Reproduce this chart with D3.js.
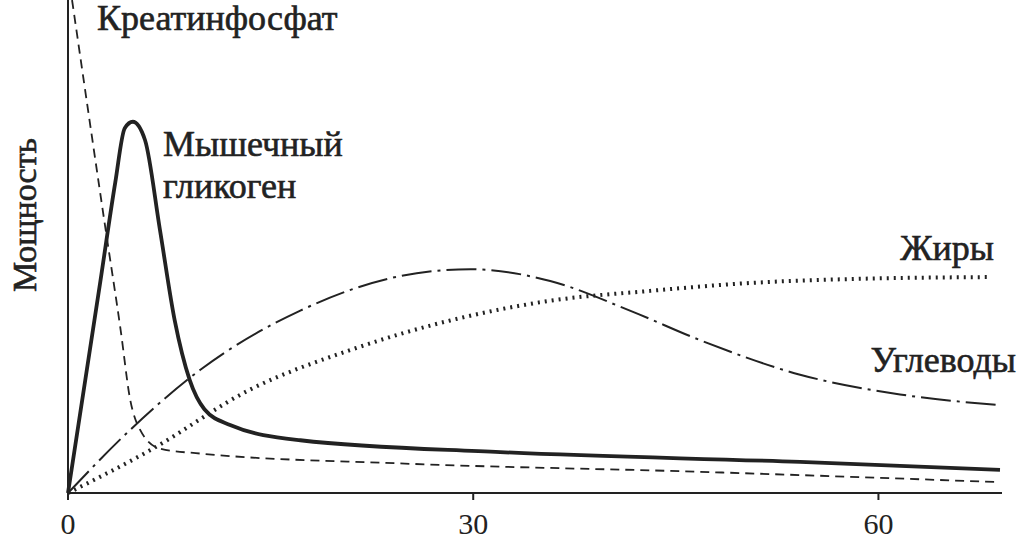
<!DOCTYPE html>
<html><head><meta charset="utf-8">
<script src="https://cdn.jsdelivr.net/npm/d3@7"></script>
<style>body{margin:0;background:#fff}text{font-family:"Liberation Serif","DejaVu Serif",serif;fill:#222}</style>
</head><body><svg id="c" width="1018" height="540"></svg>
<script>
// time (min) and power (relative)
const creatineT = [0.3, 2.7, 3.9, 4.6, 5.3, 6.8, 9.8, 24.6, 46.8, 69];
const creatineV = [100, 55, 33, 19, 13, 9, 8, 6, 4.3, 2.2];
const glycogenT = [0, 2.4, 3.5, 4.2, 4.8, 5.7, 6.8, 7.9, 9.0, 10.1, 12, 17.2, 32, 54.2, 69];
const glycogenV = [0, 43, 63, 74, 75.3, 71.6, 53.5, 35, 23, 17, 13.8, 10.7, 8.3, 6.3, 4.7];
const carbsT = [0, 4.6, 9.8, 17.2, 24.6, 29.8, 35.7, 41.6, 46.8, 54.2, 61.6, 69];
const carbsV = [0, 12.8, 25, 37, 44, 45.4, 43, 37, 31, 24, 20, 17.8];
const fatsT = [0, 6.1, 13.5, 20.9, 28.3, 35.7, 43.1, 50.5, 57.9, 68.3];
const fatsV = [0, 8.7, 21, 29, 35, 39, 41, 42.6, 43.4, 43.8];
const xTicks = [0, 30, 60];

const svg = d3.select("#c");
const x = d3.scaleLinear().domain([0, 69]).range([68, 1000]);
const y = d3.scaleLinear().domain([0, 100]).range([493, 0]);

svg.append("line").attr("x1", 68).attr("x2", 68).attr("y1", 0).attr("y2", 493).attr("stroke", "#222").attr("stroke-width", 2);
svg.append("line").attr("x1", 68).attr("x2", 1002).attr("y1", 493).attr("y2", 493).attr("stroke", "#222").attr("stroke-width", 2);
svg.selectAll(".tk").data(xTicks).enter().append("text")
  .attr("x", d => x(d)).attr("y", 534).attr("text-anchor", "middle").attr("font-size", 30).text(d => d);
xTicks.forEach(t => svg.append("line").attr("x1", x(t)).attr("x2", x(t)).attr("y1", 493).attr("y2", 500).attr("stroke", "#222").attr("stroke-width", 2));

const line = d3.line().x(d => x(d[0])).y(d => y(d[1])).curve(d3.curveMonotoneX);
function draw(ts, vs, w, dash) {
  svg.append("path").datum(d3.zip(ts, vs)).attr("d", line).attr("fill", "none")
    .attr("stroke", "#222").attr("stroke-width", w).attr("stroke-dasharray", dash);
}
draw(creatineT, creatineV, 1.8, "9,6");
draw(carbsT, carbsV, 2, "30,6,3,6");
draw(fatsT, fatsV, 4, "2,5");
draw(glycogenT, glycogenV, 3.8, null);

const lab = (t, px, py, anchor) => svg.append("text").attr("x", px).attr("y", py)
  .attr("text-anchor", anchor || "start").attr("font-size", 36)
  .attr("stroke", "#222").attr("stroke-width", 0.6).text(t);
lab("Креатинфосфат", 97, 30);
lab("Мышечный", 163, 156);
lab("гликоген", 163, 198);
lab("Жиры", 994, 260, "end");
lab("Углеводы", 1016, 372, "end");
svg.append("text").attr("transform", "translate(36,215) rotate(-90)").attr("text-anchor", "middle")
  .attr("font-size", 34).attr("stroke", "#222").attr("stroke-width", 0.6).text("Мощность");
</script></body></html>
